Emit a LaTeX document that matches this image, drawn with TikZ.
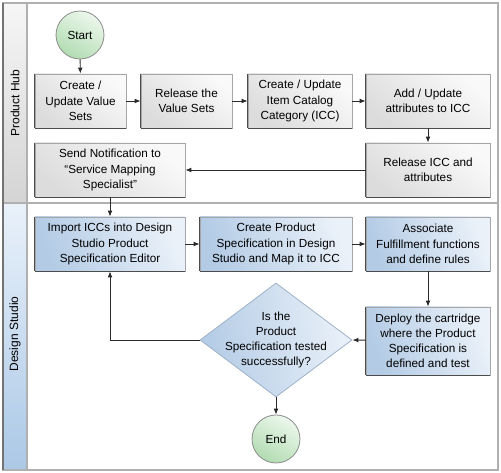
\documentclass[tikz,border=0pt]{standalone}
\usepackage{fontspec}
\setmainfont{Liberation Sans}
\usetikzlibrary{shapes.geometric,arrows.meta}
\definecolor{gL}{HTML}{F9F9F9}
\definecolor{gD}{HTML}{DCDCDC}
\definecolor{bL}{HTML}{EAF1F9}
\definecolor{bD}{HTML}{B3CBE5}
\definecolor{cL}{HTML}{ECF7EC}
\definecolor{cD}{HTML}{B2DCB2}
\definecolor{hgT}{HTML}{F6F6F6}
\definecolor{hgB}{HTML}{D4D4D4}
\definecolor{hbT}{HTML}{E9F1FA}
\definecolor{hbB}{HTML}{ABC8E6}
\definecolor{frame}{HTML}{B0B0B0}
\definecolor{linec}{HTML}{2A2A2A}
\definecolor{decb}{HTML}{9FB3C8}
\begin{document}
\begin{tikzpicture}[x=0.75pt,y=-0.75pt,
  font=\fontsize{8.8pt}{11.4pt}\selectfont,
  darkedge/.style={draw=black!70, line width=0.8pt},
  boxbase/.style={rectangle, inner sep=0pt, minimum height=40.5pt, align=center,
    line width=0.6pt, draw=black!35, text=black,
    append after command={(\tikzlastnode.north west) edge[darkedge] (\tikzlastnode.south west)
      (\tikzlastnode.south west) edge[darkedge] (\tikzlastnode.south east)}},
  boxg/.style={boxbase, top color=gL, bottom color=gD, shading angle=-40},
  boxb/.style={boxbase, top color=bL, bottom color=bD, shading angle=-70},
  circ/.style={circle, inner sep=0pt, minimum size=36pt, draw=black!45, line width=0.6pt,
    top color=cL, bottom color=cD, shading angle=-30, text=black},
  dec/.style={diamond, inner sep=0pt, minimum width=114pt, minimum height=85.5pt,
    draw=decb, line width=0.6pt, top color=bL, bottom color=bD, shading angle=-80},
  lanelabel/.style={rotate=90, font=\fontsize{9pt}{10pt}\selectfont, text=black},
  arr/.style={draw=linec, line width=0.7pt, -{Latex[length=4.5pt,width=3.6pt]}}
]
\useasboundingbox (0,0) rectangle (501,473);
% lanes
\fill[white] (3,3) rectangle (498,470);
\shade[top color=hgT, bottom color=hgB] (3,3) rectangle (27,203);
\shade[top color=hbT, bottom color=hbB] (3,203) rectangle (27,470);
\draw[frame, line width=0.8pt] (27,3) -- (27,470);
\draw[frame, line width=1.2pt] (3,203) -- (498,203);
\draw[frame, line width=1.3pt] (3,3) rectangle (498,470);
\draw[black!55, line width=1.2pt] (3,3) -- (3,470);
\node[lanelabel] (lph) at (15,103) {Product Hub};
\node[lanelabel] (lds) at (15,334) {Design Studio};

% nodes
\node[circ] (start) at (80,35) {Start};
\node[boxg, minimum width=68.25pt] (b1) at (80.5,101) {Create /\\Update Value\\Sets};
\node[boxg, minimum width=68.25pt] (b2) at (186.5,101) {Release the\\Value Sets};
\node[boxg, minimum width=78pt] (b3) at (300,101) {Create / Update\\Item Catalog\\Category (ICC)};
\node[boxg, minimum width=93pt] (b4) at (428,101) {Add / Update\\attributes to ICC};
\node[boxg, minimum width=93pt] (b5) at (428,170) {Release ICC and\\attributes};
\node[boxg, minimum width=112.5pt] (b6) at (110,170) {Send Notification to\\“Service Mapping\\Specialist”};
\node[boxb, minimum width=112.5pt] (b7) at (110,244) {Import ICCs into Design\\Studio Product\\Specification Editor};
\node[boxb, minimum width=114pt] (b8) at (276,244) {Create Product\\Specification in Design\\Studio and Map it to ICC};
\node[boxb, minimum width=93pt] (b9) at (428,244) {Associate\\Fulfillment functions\\and define rules};
\node[boxb, minimum width=93pt, minimum height=51pt] (b10) at (428,341) {Deploy the cartridge\\where the Product\\Specification is\\defined and test};
\node[dec] (dia) at (276,340) {};
\node[align=center, text=black, inner sep=0pt] (diat) at (dia.center) {Is the\\Product\\Specification tested\\successfully?};
\node[circ] (end) at (276,439) {End};

% connectors
\draw[arr] (start) -- (b1);
\draw[arr] (b1) -- (b2);
\draw[arr] (b2) -- (b3);
\draw[arr] (b3) -- (b4);
\draw[arr] (b4) -- (b5);
\draw[arr] (b5) -- (b6);
\draw[arr] (b6) -- (b7);
\draw[arr] (b7) -- (b8);
\draw[arr] (b8) -- (b9);
\draw[arr] (b9) -- (b10);
\draw[arr] (b10) -- (dia.east);
\draw[arr] (dia.west) -| (b7.south);
\draw[arr] (dia.south) -- (end);
\end{tikzpicture}
\end{document}
